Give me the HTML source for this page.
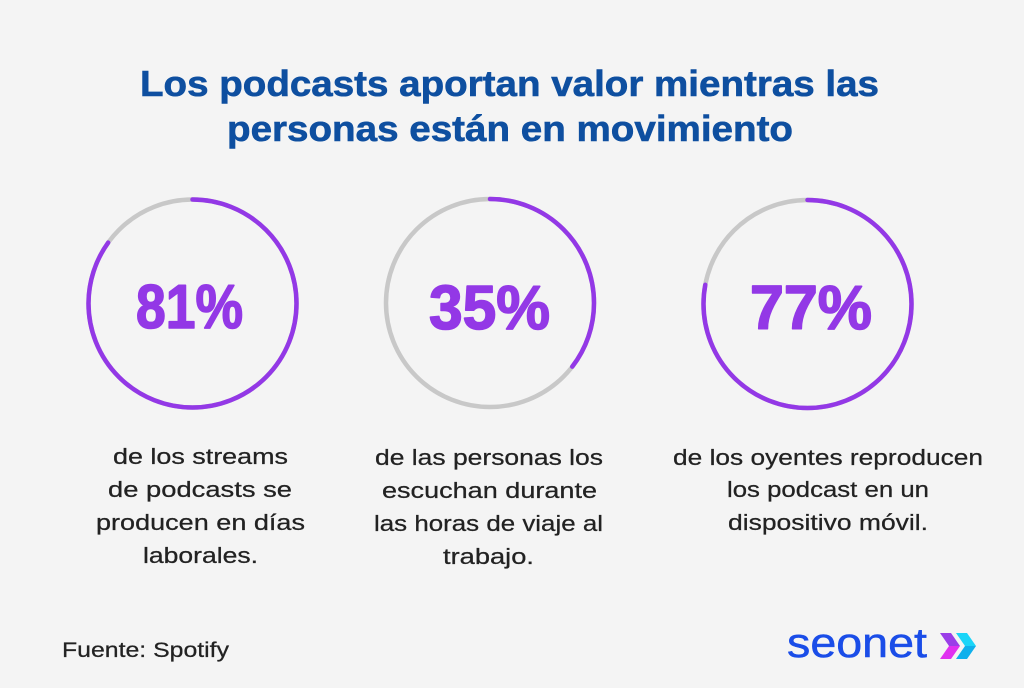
<!DOCTYPE html>
<html>
<head>
<meta charset="utf-8">
<style>
  html, body { margin:0; padding:0; background:#f4f4f4; }
  svg { display:block; }
</style>
</head>
<body>
<svg width="1024" height="688" viewBox="0 0 1024 688" xmlns="http://www.w3.org/2000/svg">
  <rect x="0" y="0" width="1024" height="688" fill="#f4f4f4"/>

  <!-- Title -->
  <g font-family="Liberation Sans, sans-serif" font-weight="bold" font-size="36" fill="#0e4fa0" stroke="#0e4fa0" stroke-width="0.6">
    <text x="140" y="96" textLength="739" lengthAdjust="spacingAndGlyphs">Los podcasts aportan valor mientras las</text>
    <text x="227" y="141" textLength="566" lengthAdjust="spacingAndGlyphs">personas están en movimiento</text>
  </g>

  <!-- Circles -->
  <g fill="none" stroke-width="4.5" stroke-linecap="round">
    <circle cx="192.5" cy="303.5" r="104" stroke="#c8c8c8"/>
    <circle cx="192.5" cy="303.5" r="104" stroke="#9338e6" pathLength="100" stroke-dasharray="85 100" transform="rotate(-90 192.5 303.5)"/>

    <circle cx="490" cy="303" r="104" stroke="#c8c8c8"/>
    <circle cx="490" cy="303" r="104" stroke="#9338e6" pathLength="100" stroke-dasharray="35.5 100" transform="rotate(-90 490 303)"/>

    <circle cx="807.5" cy="304" r="104" stroke="#c8c8c8"/>
    <circle cx="807.5" cy="304" r="104" stroke="#9338e6" pathLength="100" stroke-dasharray="78 100" transform="rotate(-90 807.5 304)"/>
  </g>

  <!-- Percentages -->
  <g font-family="Liberation Sans, sans-serif" font-weight="bold" font-size="62" fill="#9338e6" stroke="#9338e6" stroke-width="1.6" stroke-linejoin="round">
    <text x="136" y="328" textLength="107" lengthAdjust="spacingAndGlyphs">81%</text>
    <text x="429" y="329" textLength="121" lengthAdjust="spacingAndGlyphs">35%</text>
    <text x="750" y="329" textLength="122" lengthAdjust="spacingAndGlyphs">77%</text>
  </g>

  <!-- Descriptions -->
  <g font-family="Liberation Sans, sans-serif" font-size="22" fill="#222222" stroke="#222222" stroke-width="0.25">
    <text x="113" y="464" textLength="175" lengthAdjust="spacingAndGlyphs">de los streams</text>
    <text x="108" y="497" textLength="184" lengthAdjust="spacingAndGlyphs">de podcasts se</text>
    <text x="96" y="530" textLength="209" lengthAdjust="spacingAndGlyphs">producen en días</text>
    <text x="143" y="563" textLength="115" lengthAdjust="spacingAndGlyphs">laborales.</text>

    <text x="375" y="465" textLength="228" lengthAdjust="spacingAndGlyphs">de las personas los</text>
    <text x="382" y="498" textLength="215" lengthAdjust="spacingAndGlyphs">escuchan durante</text>
    <text x="374" y="531" textLength="229" lengthAdjust="spacingAndGlyphs">las horas de viaje al</text>
    <text x="443" y="564" textLength="91" lengthAdjust="spacingAndGlyphs">trabajo.</text>

    <text x="673" y="465" textLength="310" lengthAdjust="spacingAndGlyphs">de los oyentes reproducen</text>
    <text x="727" y="497" textLength="202" lengthAdjust="spacingAndGlyphs">los podcast en un</text>
    <text x="728" y="530" textLength="200" lengthAdjust="spacingAndGlyphs">dispositivo móvil.</text>
  </g>

  <!-- Source -->
  <text x="62" y="657" font-family="Liberation Sans, sans-serif" font-size="21" fill="#222222" stroke="#222222" stroke-width="0.25" textLength="167" lengthAdjust="spacingAndGlyphs">Fuente: Spotify</text>

  <!-- Logo -->
  <text x="787" y="657" font-family="Liberation Sans, sans-serif" font-size="42" fill="#1a4de8" stroke="#1a4de8" stroke-width="0.5" textLength="140" lengthAdjust="spacingAndGlyphs">seonet</text>
  <polygon points="940,633 951,633 960,646 949,646" fill="#9a3ee8"/>
  <polygon points="949,646 960,646 951,659 940,659" fill="#e030f0"/>
  <polygon points="956,633 967,633 976,646 965,646" fill="#1ad5f8"/>
  <polygon points="965,646 976,646 967,659 956,659" fill="#0fb0ec"/>
</svg>
</body>
</html>
